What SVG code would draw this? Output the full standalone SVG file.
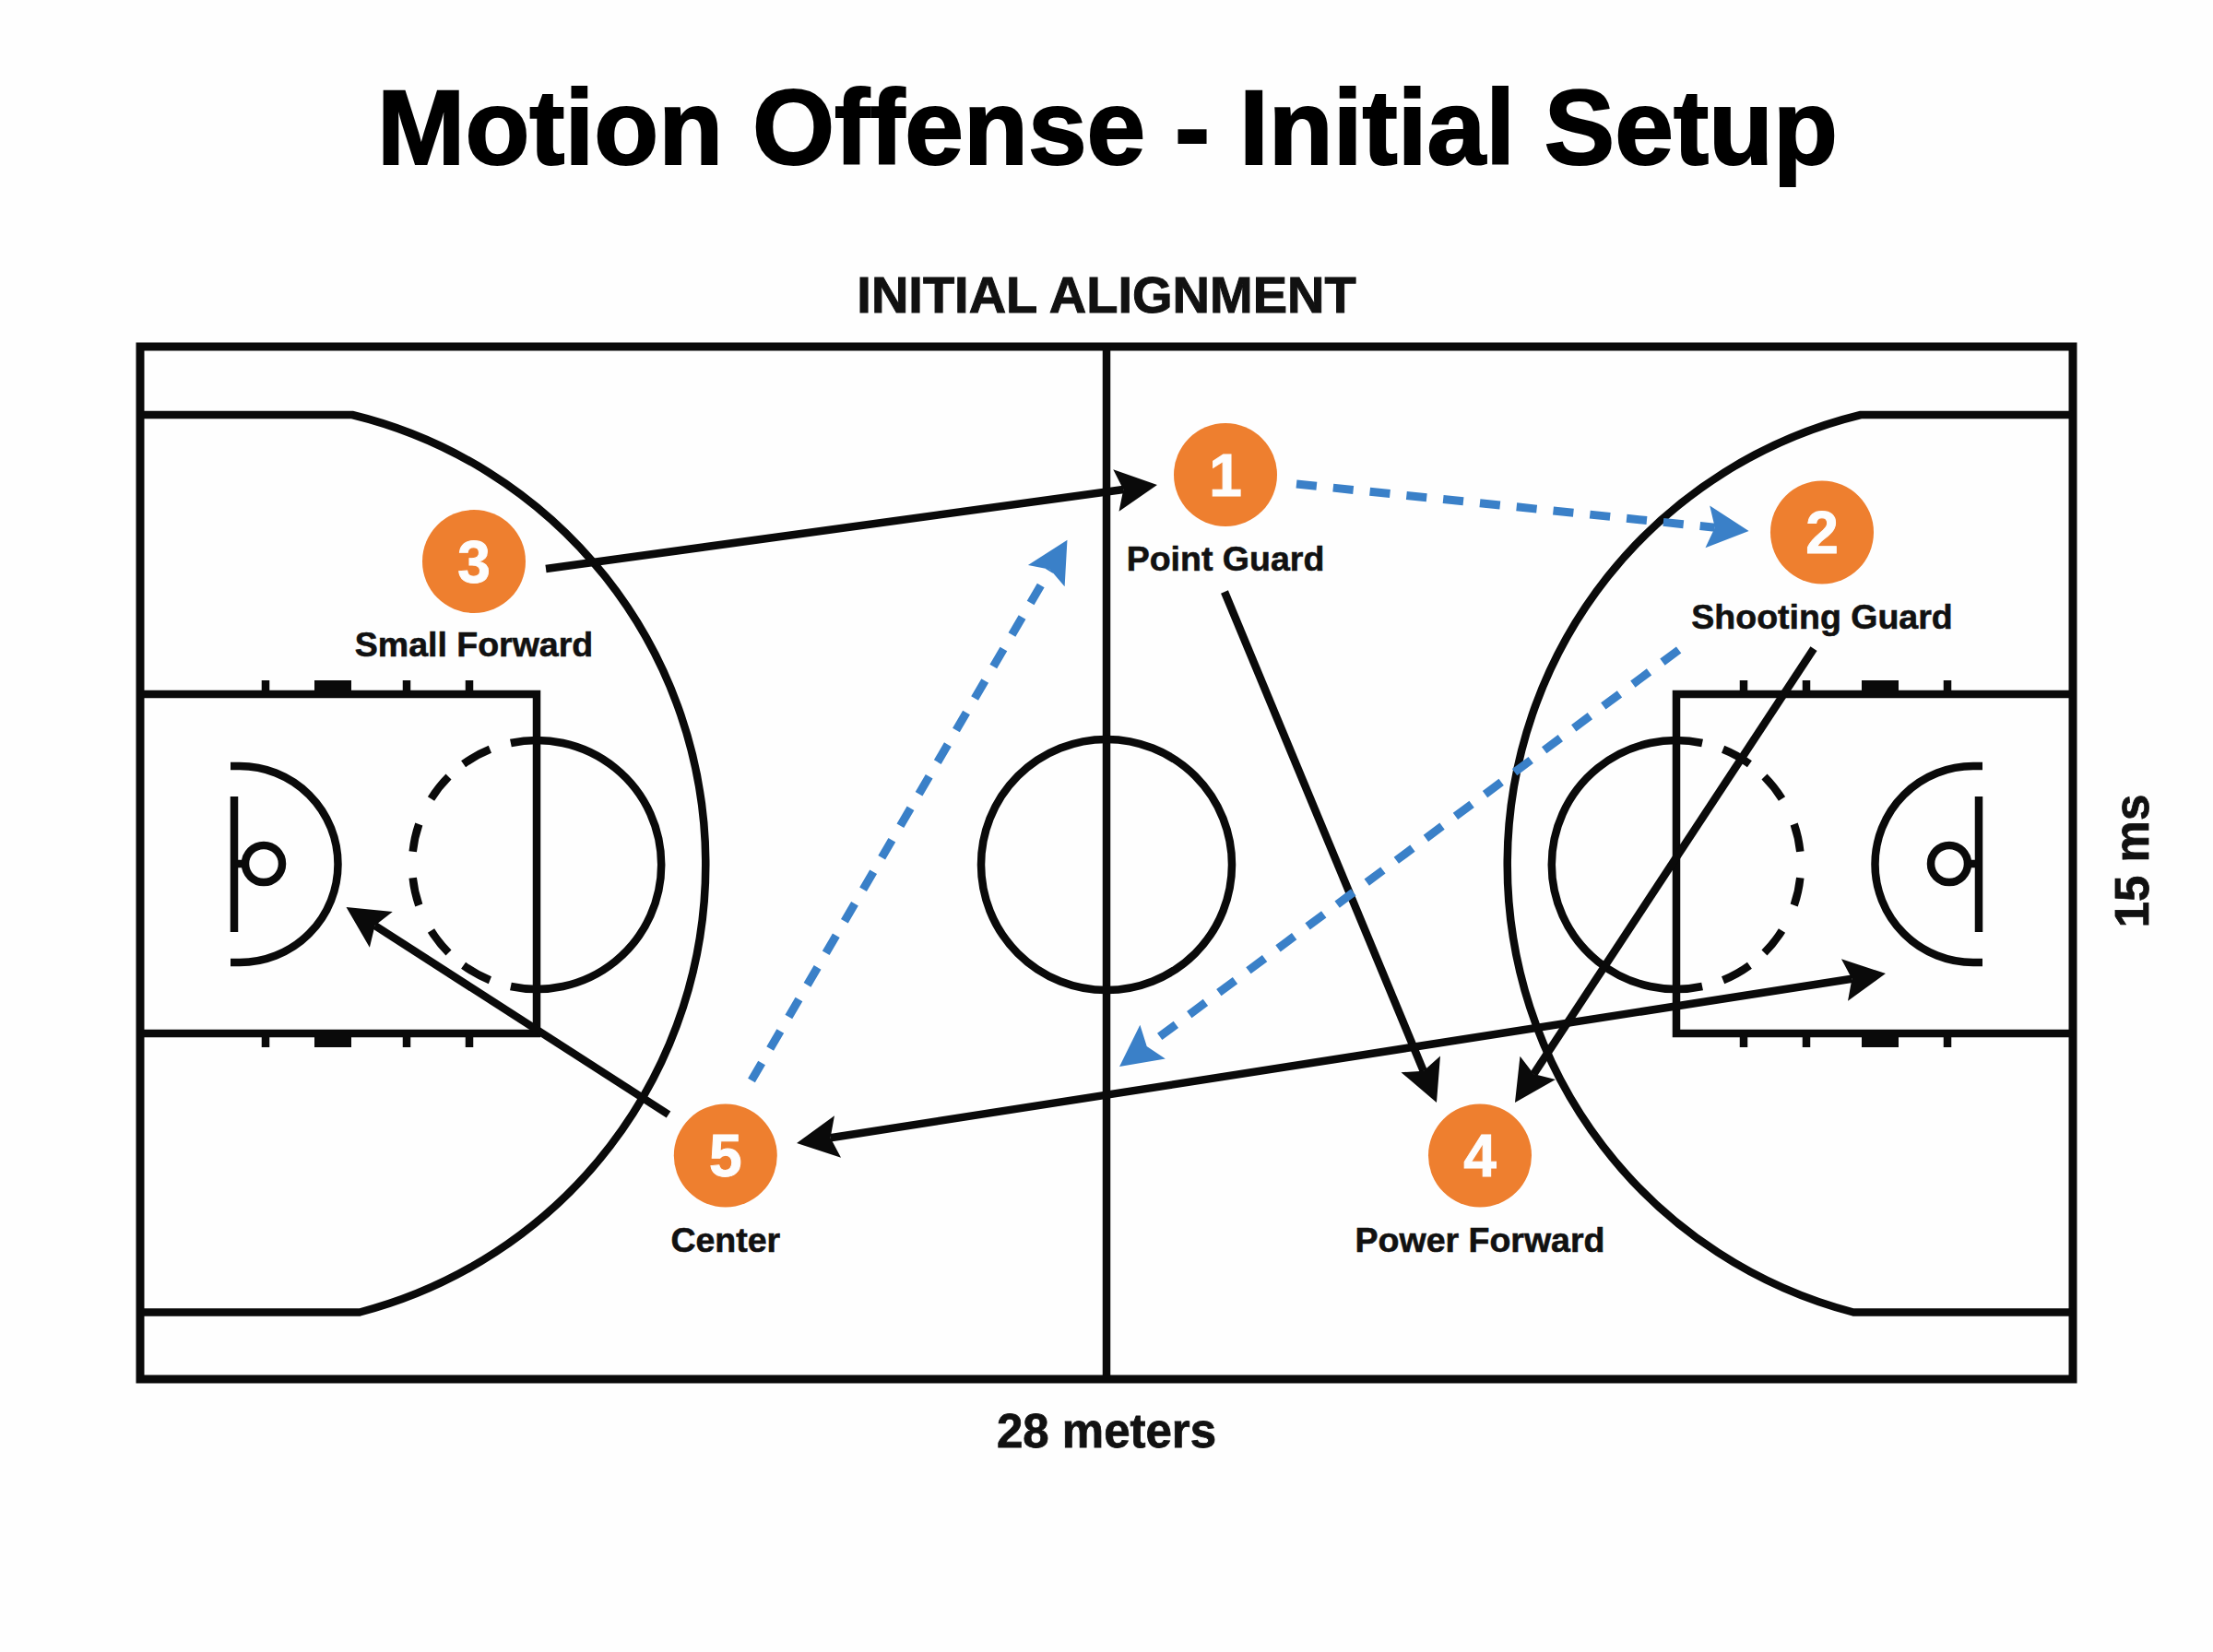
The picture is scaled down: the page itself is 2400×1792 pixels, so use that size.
<svg xmlns="http://www.w3.org/2000/svg" width="2400" height="1792" viewBox="0 0 2400 1792">
<style>
text{font-family:"Liberation Sans",Arial,sans-serif;font-weight:700;fill:#111;text-anchor:middle;stroke:#111;stroke-width:.6px}
.title{font-size:114.500px;fill:#000;stroke:#000;stroke-width:2px}
.sub{font-size:56px;stroke-width:1px}
.dim{font-size:51px;stroke-width:.8px}
.label{font-size:37.500px}
.num{font-size:64px;fill:#fdfdfd;stroke:#fdfdfd;stroke-width:1px}
.dot{fill:#ee7f2f}
.court{fill:none;stroke:#0a0a0a;stroke-width:8.500}
.outer{stroke-width:9}
.fill{fill:#0a0a0a;stroke:none}
.arrow{fill:none;stroke:#0a0a0a;stroke-width:8.500}
.pass{fill:none;stroke:#3a80c8;stroke-width:9;stroke-dasharray:22 18}
</style>
<defs>
<marker id="headBlack" markerUnits="userSpaceOnUse" markerWidth="46" markerHeight="46" refX="8" refY="23" orient="auto-start-reverse" overflow="visible"><path d="M0 0L45 23L0 46L8 23Z" fill="#0a0a0a"/></marker>
<marker id="headBlue" markerUnits="userSpaceOnUse" markerWidth="46" markerHeight="46" refX="8" refY="23" orient="auto" overflow="visible"><path d="M0 0L45 23L0 46L8 23Z" fill="#3a80c8"/></marker>
<g id="halfLeft">
<path class="court" d="M152 450H382A502 502 0 0 1 390 1423.500H152"/>
<path class="court" d="M152 753H582V1121H152"/>
<path class="court" d="M553.900 806A135 135 0 1 1 553.900 1070"/>
<path class="court" d="M531.400 812.800A135 135 0 0 0 502.600 828.800M486.500 842.500A135 135 0 0 0 467.500 866.500M454.300 894A135 135 0 0 0 447.700 923.800M447.700 952.200A135 135 0 0 0 454.300 982M467.500 1009.500A135 135 0 0 0 486.500 1033.500M502.600 1047.200A135 135 0 0 0 531.400 1063.200"/>
<path class="court" d="M250 831H260A106.500 106.500 0 0 1 260 1044H250"/>
<path class="court" d="M254 864V1011M254 937H267"/>
<circle class="court" cx="286" cy="937" r="20"/>
<path class="court" d="M288 738V753M441 738V753M509 738V753M288 1121V1136M441 1121V1136M509 1121V1136"/>
<rect class="fill" x="341" y="738" width="40" height="15"/>
<rect class="fill" x="341" y="1121" width="40" height="15"/>
</g>
</defs>
<rect width="2400" height="1792" fill="#fefefe"/>
<text class="title" x="1201" y="178">Motion Offense - Initial Setup</text>
<text class="sub" x="1200" y="339">INITIAL ALIGNMENT</text>
<g id="court">
<rect class="court outer" x="152" y="376" width="2096" height="1120"/>
<path class="court" d="M1200 376V1496"/>
<circle class="court" cx="1200" cy="938" r="136"/>
<use href="#halfLeft"/>
<use href="#halfLeft" transform="matrix(-1 0 0 1 2400 0)"/>
</g>
<g id="connectors">
<line class="arrow" x1="592" y1="617" x2="1218.300" y2="531" marker-end="url(#headBlack)"/>
<line class="arrow" x1="1328" y1="642" x2="1543.800" y2="1161.800" marker-end="url(#headBlack)"/>
<line class="arrow" x1="1967" y1="703.600" x2="1663.300" y2="1165.100" marker-end="url(#headBlack)"/>
<line class="arrow" x1="900.600" y1="1234.300" x2="2008.400" y2="1061.700" marker-start="url(#headBlack)" marker-end="url(#headBlack)"/>
<line class="arrow" x1="725" y1="1209" x2="406.600" y2="1004" marker-end="url(#headBlack)"/>
<line class="pass" x1="1406" y1="525" x2="1859.800" y2="572.200" marker-end="url(#headBlue)"/>
<line class="pass" x1="815" y1="1172" x2="1138.800" y2="617.700" marker-end="url(#headBlue)"/>
<line class="pass" x1="1820.600" y1="705" x2="1243.700" y2="1134.900" marker-end="url(#headBlue)"/>
</g>
<g id="player-1"><circle class="dot" cx="1329" cy="515" r="56"/><text class="num" x="1329" y="538">1</text><text class="label" x="1329" y="619">Point Guard</text></g>
<g id="player-2"><circle class="dot" cx="1976" cy="577.500" r="56"/><text class="num" x="1976" y="600">2</text><text class="label" x="1976" y="682">Shooting Guard</text></g>
<g id="player-3"><circle class="dot" cx="514" cy="609" r="56"/><text class="num" x="514" y="632">3</text><text class="label" x="514" y="712">Small Forward</text></g>
<g id="player-4"><circle class="dot" cx="1605" cy="1253.500" r="56"/><text class="num" x="1605" y="1276">4</text><text class="label" x="1605" y="1358">Power Forward</text></g>
<g id="player-5"><circle class="dot" cx="786.800" cy="1253.500" r="56"/><text class="num" x="786.800" y="1276">5</text><text class="label" x="786.800" y="1358">Center</text></g>
<text class="dim" x="1200" y="1570">28 meters</text>
<text class="dim" transform="translate(2329.500 934) rotate(-90)">15 ms</text>
</svg>
